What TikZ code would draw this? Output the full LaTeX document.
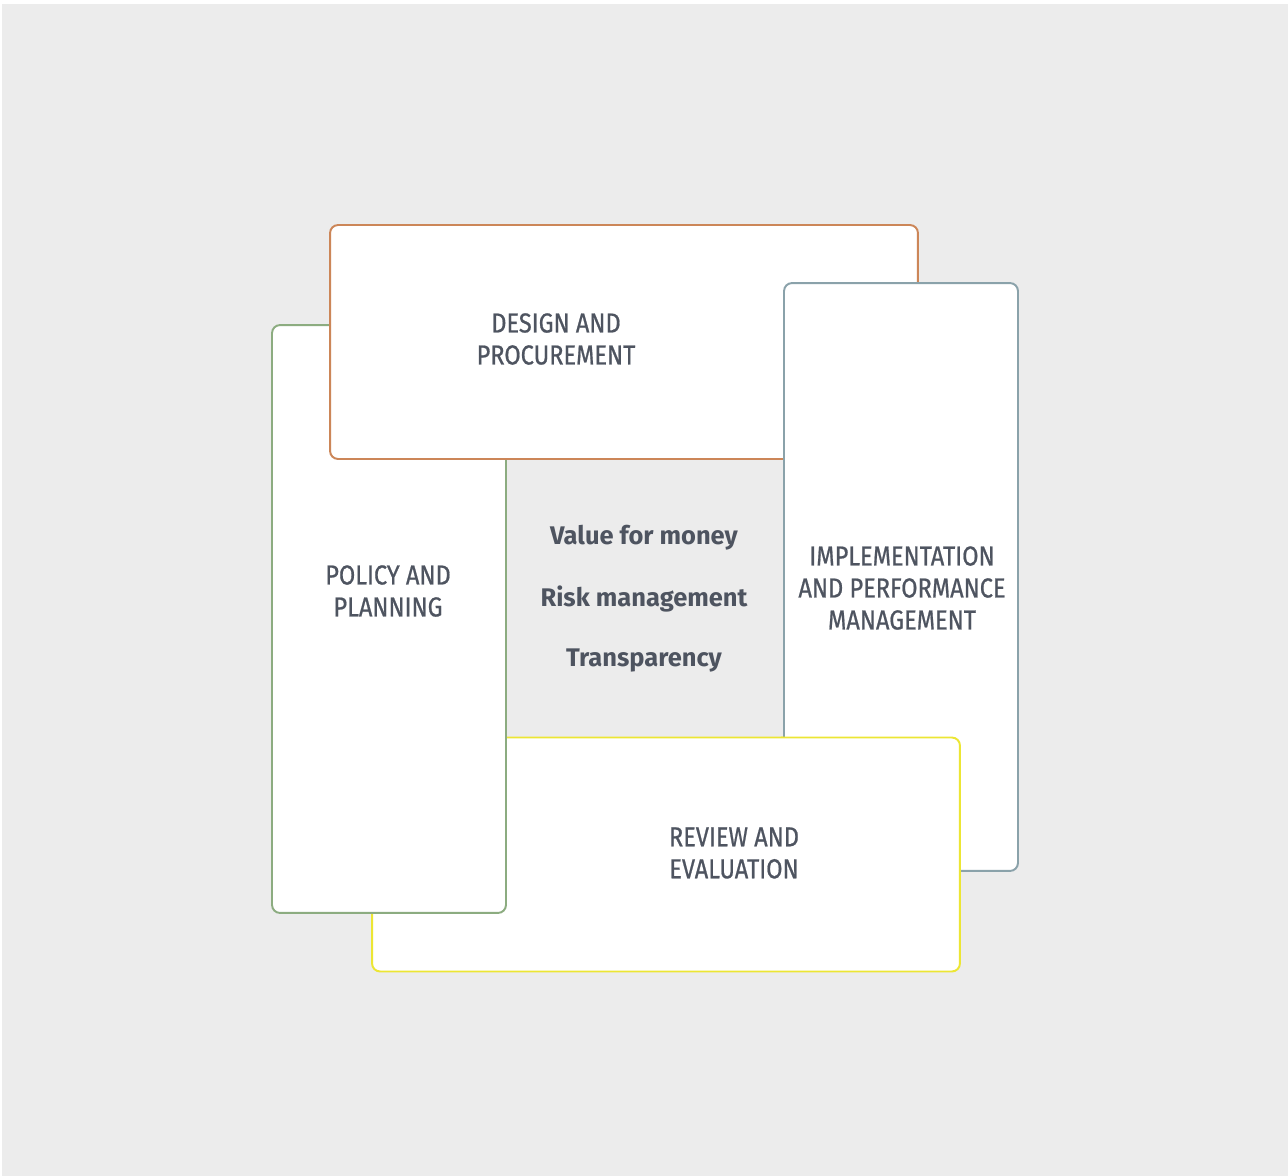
\documentclass[tikz,border=0pt]{standalone}
\usepackage{fontspec}
\setmainfont{Fira Sans}
\newfontfamily\titlefont[FakeStretch=0.86,FakeBold=0.7]{Fira Sans}
\usepackage{tikz}
\usetikzlibrary{positioning}
\definecolor{bggrey}{RGB}{236,236,236}
\definecolor{txtgrey}{RGB}{78,84,96}
\definecolor{designcol}{RGB}{204,134,88}
\definecolor{policycol}{RGB}{140,172,128}
\definecolor{implcol}{RGB}{138,162,170}
\definecolor{reviewcol}{RGB}{236,230,52}
\tikzstyle{box} = [rectangle, rounded corners=0.16cm, fill=white, line width=1.1pt,
inner sep=0pt, outer sep=0pt]
\tikzstyle{wide} = [box, minimum width=11.76cm, minimum height=4.68cm]
\tikzstyle{tall} = [box, minimum width=4.68cm, minimum height=11.76cm]
\tikzstyle{title} = [text=txtgrey, align=center, font=\titlefont\fontsize{15.6}{18.2}\selectfont]
\tikzstyle{value} = [text=txtgrey, font=\bfseries\fontsize{14.5}{17}\selectfont]

\begin{document}
\begin{tikzpicture}[x=0.02cm, y=-0.02cm]
% Background
	\useasboundingbox (0,0) rectangle (1288,1176);
	\fill[bggrey] (2,4) rectangle (1288,1176);

% Place boxes
	\node [wide, draw=reviewcol] (review) at (666,854.5) {};
	\node [tall, draw=policycol] (policy) at (389,619) {};
	\node [wide, draw=designcol] (design) at (624,342) {};
	\node [tall, draw=implcol]   (impl)   at (901,577) {};
	\begin{scope}
		\clip ([shift={(-3,3)}]impl.south west) rectangle ([shift={(3,-3)}]impl.north east);
		\draw [box, draw=reviewcol] (review.south west) rectangle (review.north east);
	\end{scope}

% Place labels
	\node [title] (designtxt) at (556,339) {DESIGN AND\\PROCUREMENT};
	\node [title] (policytxt) at (388,591) {POLICY AND\\PLANNING};
	\node [title] (impltxt)   at (902,588) {IMPLEMENTATION\\AND PERFORMANCE\\MANAGEMENT};
	\node [title] (reviewtxt) at (734,853) {REVIEW AND\\EVALUATION};

	\node [value] (money)  at (644,538) {Value for money};
	\node [value] (risk)   at (644,599) {Risk management};
	\node [value] (transp) at (644,660) {Transparency};

\end{tikzpicture}
\end{document}
